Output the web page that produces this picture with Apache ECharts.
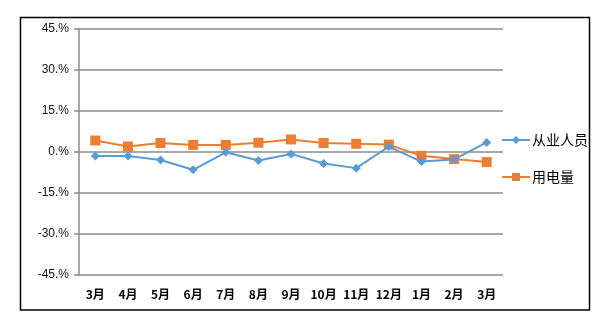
<!DOCTYPE html>
<html>
<head>
<meta charset="utf-8">
<script src="https://cdn.jsdelivr.net/npm/echarts@6/dist/echarts.min.js"></script>
<style>
  html, body { margin: 0; padding: 0; background: #fff; }
  #chart { width: 612px; height: 325px; }
</style>
</head>
<body>
<div id="chart"></div>
<script>
// Monthly year-on-year growth (%): employees vs. electricity consumption
const months = ['3月', '4月', '5月', '6月', '7月', '8月', '9月', '10月', '11月', '12月', '1月', '2月', '3月'];
const employees = [-1.5, -1.5, -2.9, -6.5, -0.1, -3.1, -0.7, -4.2, -5.9, 2.0, -3.5, -2.7, 3.5];
const electricity = [4.2, 2.0, 3.3, 2.6, 2.6, 3.4, 4.6, 3.3, 3.0, 2.7, -1.4, -2.6, -3.7];
const yMin = -45, yMax = 45, yStep = 15;

const chart = echarts.init(document.getElementById('chart'), null, { renderer: 'canvas' });
const gridColor = '#8c8c8c';

chart.setOption({
  animation: false,
  backgroundColor: '#fff',
  graphic: [{
    type: 'rect',
    shape: { x: 20.5, y: 17.5, width: 569, height: 292.5 },
    style: { fill: 'none', stroke: '#000', lineWidth: 1.5 },
    silent: true
  }],
  grid: { left: 79, top: 29, width: 424, height: 246 },
  legend: {
    orient: 'vertical',
    left: 496,
    top: 128,
    itemWidth: 28,
    itemHeight: 10,
    itemGap: 23,
    textStyle: { fontFamily: '"Noto Sans CJK SC", sans-serif', fontSize: 14, color: '#000', padding: [0, 0, 0, -3] },
    data: ['从业人员', '用电量']
  },
  xAxis: {
    type: 'category',
    data: months,
    boundaryGap: true,
    axisLine: { show: false },
    axisTick: { show: false },
    axisLabel: {
      interval: 0,
      margin: 13,
      fontFamily: '"Noto Sans CJK SC", sans-serif',
      fontWeight: 'bold',
      fontSize: 12,
      color: '#000'
    }
  },
  yAxis: {
    type: 'value',
    min: yMin,
    max: yMax,
    interval: yStep,
    axisLine: { show: true, lineStyle: { color: gridColor, width: 1.5 } },
    axisTick: { show: true, length: 5, lineStyle: { color: gridColor, width: 1.5 } },
    splitLine: { show: true, lineStyle: { color: gridColor, width: 1.5 } },
    axisLabel: {
      margin: 10,
      fontFamily: '"Liberation Sans", Arial, sans-serif',
      fontSize: 12,
      color: '#111',
      formatter: v => v + '.%'
    }
  },
  series: [
    {
      name: '从业人员',
      type: 'line',
      data: employees,
      symbol: 'diamond',
      symbolSize: 9,
      itemStyle: { color: '#5B9BD5' },
      lineStyle: { color: '#5B9BD5', width: 2 },
      z: 3
    },
    {
      name: '用电量',
      type: 'line',
      data: electricity,
      symbol: 'rect',
      symbolSize: 10,
      itemStyle: { color: '#ED7D31' },
      lineStyle: { color: '#ED7D31', width: 2 },
      z: 2
    }
  ]
});
</script>
</body>
</html>
